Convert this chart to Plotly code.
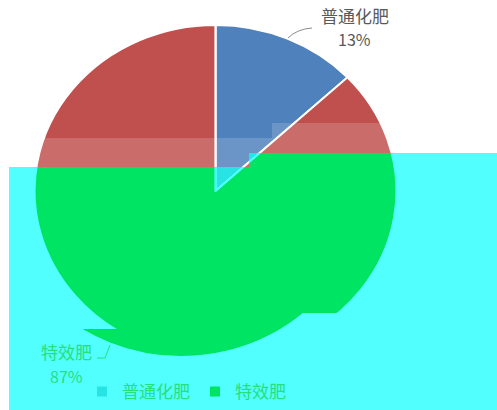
import json
import plotly.graph_objects as go

# ---- data ----
labels = ["普通化肥", "特效肥"]
values = [13, 87]
colors_main = ["#4F81BD", "#C0504D"]      # original slice colours
colors_shift = ["#27E3E3", "#00E463"]     # slice colours inside the cyan band

W, H = 497, 410
CX, CY = 215.5, 191.0   # pie centre (px)
RY, RX = 166.0, 181.0   # vertical / horizontal radius (px)
SHIFT = 34              # horizontal offset of the lowest strip (px)
STEP_X = 249            # x where the cyan band steps up
CYAN = "#52FFFF"
GREEN_TXT = "#25E07C"
GRAY_TXT = "#595959"
FONT = "Noto Sans CJK SC"


def px(x, y):
    return x / W, 1 - y / H


def dom(cx):
    return dict(x=[(cx - RY) / W, (cx + RY) / W],
                y=[1 - (CY + RY) / H, 1 - (CY - RY) / H])


common = dict(labels=labels, values=values, sort=False, direction="clockwise",
              rotation=0, textinfo="none", hoverinfo="none")

fig = go.Figure()
fig.add_trace(go.Pie(**common, domain=dom(CX), showlegend=False,
                     marker=dict(colors=colors_main, line=dict(color="white", width=2))))
fig.add_trace(go.Pie(**common, domain=dom(CX), showlegend=True,
                     marker=dict(colors=colors_shift, line=dict(color=CYAN, width=2))))
fig.add_trace(go.Pie(**common, domain=dom(CX - SHIFT), showlegend=False,
                     marker=dict(colors=colors_shift, line=dict(color=CYAN, width=2))))


def path(points):
    s = ""
    for i, (x, y) in enumerate(points):
        a, b = px(x, y)
        s += ("M" if i == 0 else "L") + f"{a:.5f},{b:.5f} "
    return s + "Z"


def rect(x0, y0, x1, y1, color, layer):
    a0, b0 = px(x0, y0)
    a1, b1 = px(x1, y1)
    return dict(type="rect", xref="paper", yref="paper", layer=layer,
                x0=a0, x1=a1, y0=b1, y1=b0, fillcolor=color, line=dict(width=0))


BAND = "rgba(255,255,255,0.16)"
shapes = [
    # cyan band (behind the pies)
    dict(type="path", xref="paper", yref="paper", layer="below",
         path=path([(9, 167), (STEP_X, 167), (STEP_X, 153), (W, 153), (W, H), (9, H)]),
         fillcolor=CYAN, line=dict(width=0)),
    # light bands above the cut
    rect(9, 138, STEP_X, 167, BAND, "above"),
    rect(STEP_X, 138, 272, 153, BAND, "above"),
    rect(272, 123, W, 153, BAND, "above"),
]
# leader lines
a0, b0 = px(288, 38); a1, b1 = px(297, 29); a2, b2 = px(312, 28)
shapes.append(dict(type="path", xref="paper", yref="paper", layer="above",
                   path=f"M{a0},{b0} Q{a1},{b1} {a2},{b2}",
                   line=dict(color="#8C8C8C", width=1)))
a0, b0 = px(97, 358); a1, b1 = px(105, 358); a2, b2 = px(110, 345)
shapes.append(dict(type="path", xref="paper", yref="paper", layer="above",
                   path=f"M{a0},{b0} L{a1},{b1} L{a2},{b2}",
                   line=dict(color=GREEN_TXT, width=1)))


def ann(x, y, text, size, color):
    a, b = px(x, y)
    return dict(xref="paper", yref="paper", x=a, y=b, xanchor="center", yanchor="middle",
                showarrow=False, text=text, font=dict(family=FONT, size=size, color=color))


annotations = [
    ann(355, 15, labels[0], 17, GRAY_TXT),
    ann(354, 39.5, f"{values[0]}%", 16, GRAY_TXT),
    ann(66, 351, labels[1], 17, GREEN_TXT),
    ann(66, 376, f"{values[1]}%", 16, GREEN_TXT),
]

lx, _ = px(82, 0)
fig.update_layout(
    width=W, height=H, margin=dict(l=0, r=0, t=0, b=0),
    paper_bgcolor="white", plot_bgcolor="white",
    font=dict(family=FONT, size=17, color=GREEN_TXT),
    shapes=shapes, annotations=annotations,
    legend=dict(orientation="h", x=lx, y=0, xanchor="left", yanchor="bottom",
                bgcolor="rgba(0,0,0,0)", font=dict(family=FONT, size=17, color=GREEN_TXT),
                itemclick=False, itemdoubleclick=False),
)

cut = f"0,167 {STEP_X},167 {STEP_X},153 497,153"
clip_cfg = [
    dict(pts=f"0,0 497,0 497,153 {STEP_X},153 {STEP_X},167 0,167", cx=CX, s=RX / RY),
    dict(pts=f"{cut} 497,313 200,313 200,329 0,329", cx=CX, s=RX / RY),
    dict(pts="0,329 200,329 200,313 497,313 497,410 0,410", cx=CX - SHIFT, s=RX / RY),
]

js = """
(function(){
var gd = document.getElementById('{plot_id}');
var svg = gd.querySelector('svg.main-svg');
var NS = 'http://www.w3.org/2000/svg';
var defs = svg.querySelector('defs');
if (!defs) { defs = document.createElementNS(NS, 'defs'); svg.insertBefore(defs, svg.firstChild); }
var cfg = __CFG__;
var tr = gd.querySelectorAll('.pielayer .trace');
cfg.forEach(function(c, i){
  var cp = document.createElementNS(NS, 'clipPath');
  cp.setAttribute('id', 'pieband-clip-' + i);
  var pg = document.createElementNS(NS, 'polygon');
  pg.setAttribute('points', c.pts);
  cp.appendChild(pg); defs.appendChild(cp);
  if (tr[i]) {
    tr[i].setAttribute('clip-path', 'url(#pieband-clip-' + i + ')');
    tr[i].querySelectorAll('g.slice').forEach(function(s){
      s.setAttribute('transform', 'matrix(' + c.s + ',0,0,1,' + (c.cx * (1 - c.s)) + ',0)');
    });
  }
});
})();
""".replace("__CFG__", json.dumps(clip_cfg))

fig.write_html("out.html", post_script=js, config=dict(displayModeBar=False, staticPlot=True))
